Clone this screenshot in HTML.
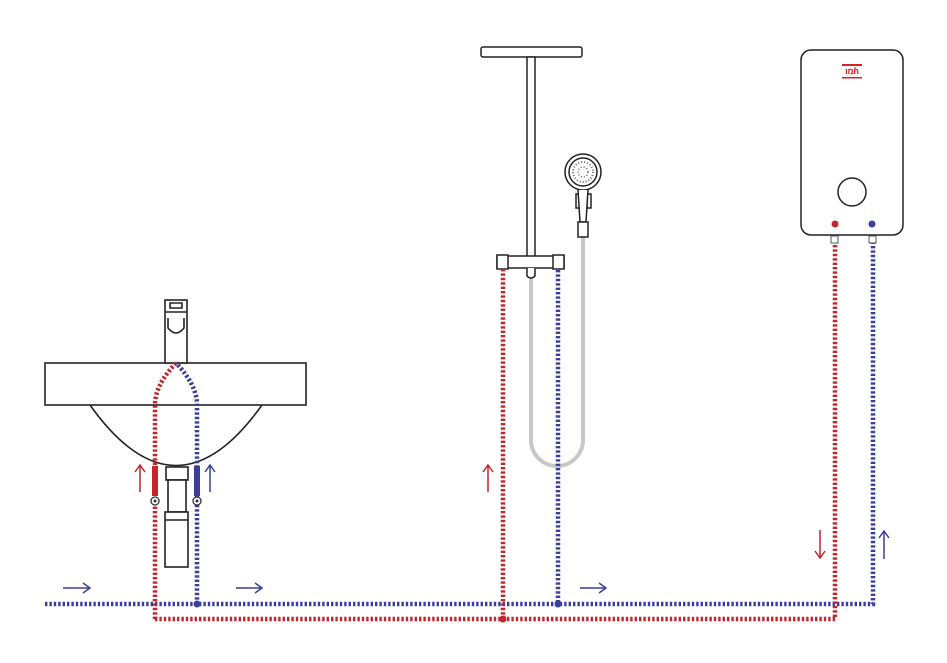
<!DOCTYPE html>
<html><head><meta charset="utf-8"><style>body{margin:0;background:#fff}svg{display:block}</style></head><body>
<svg width="947" height="663" viewBox="0 0 947 663" xmlns="http://www.w3.org/2000/svg">
<g fill="none" stroke-width="4.5" stroke-dasharray="2.4 2">
<path d="M45 604 H873 V240" stroke="#3b3f9c"/>
<path d="M155 619 H835 V240" stroke="#c0272d"/>
<path d="M503 619 V270" stroke="#c0272d"/>
</g>
<rect x="152" y="466" width="6" height="30" fill="#c0272d"/>
<rect x="194" y="466" width="6" height="30" fill="#3b3f9c"/>
<!-- sink -->
<g fill="none" stroke="#222" stroke-width="1.6">
<rect x="45" y="363" width="261" height="42" fill="#fff"/>
<path d="M90 405 Q176 526 262 405"/>
<rect x="166" y="467" width="22" height="13" fill="#fff"/>
<rect x="168" y="480" width="18" height="32" fill="#fff"/>
<rect x="165" y="512" width="23" height="55" fill="#fff"/>
<line x1="165" y1="520" x2="188" y2="520"/>
<rect x="165" y="300" width="22" height="63" fill="#fff"/>
<path d="M165 312 H187 M170 303 H182 V308 H170 Z M168 318 V328 Q176 338 184 328 V318"/>
</g>
<g fill="none" stroke-width="4.5" stroke-dasharray="2.4 2">
<path d="M155 619 V405 Q155 385 176 363" stroke="#c0272d"/>
<path d="M197 604 V405 Q197 385 176 363" stroke="#3b3f9c"/>
</g>
<rect x="152" y="466" width="6" height="30" fill="#c0272d"/>
<rect x="194" y="466" width="6" height="30" fill="#3b3f9c"/>
<g fill="#fff" stroke="#333" stroke-width="1.3"><circle cx="155" cy="501" r="4"/><circle cx="197" cy="501" r="4"/></g>
<g fill="#333"><circle cx="155" cy="501" r="1.5"/><circle cx="197" cy="501" r="1.5"/></g>
<!-- hose -->
<path d="M583 237 V440 A26 26 0 0 1 531 440 V278" fill="none" stroke="#c8c8c8" stroke-width="4"/>
<path d="M558 270 V604" fill="none" stroke="#3b3f9c" stroke-width="4.5" stroke-dasharray="2.4 2"/>
<circle cx="197" cy="604" r="3.5" fill="#3b3f9c"/>
<circle cx="558" cy="604" r="3.5" fill="#3b3f9c"/>
<circle cx="503" cy="619" r="3.5" fill="#c0272d"/>
<!-- shower -->
<g fill="#fff" stroke="#222" stroke-width="1.5">
<rect x="481" y="47" width="101" height="10" rx="2"/>
<rect x="527" y="57" width="8" height="200"/>
<rect x="497" y="256" width="67" height="12"/>
<rect x="497" y="255" width="11" height="14"/>
<rect x="553" y="255" width="11" height="14"/>
<path d="M527 268 V276 Q531 280 535 276 V268"/>
<circle cx="583" cy="172" r="18"/>
<circle cx="583" cy="172" r="14"/>
<rect x="576" y="194" width="4" height="14"/>
<rect x="587" y="194" width="4" height="14"/>
<path d="M578 190 L580 222 H586 L588 190"/>
<rect x="578" y="222" width="10" height="15"/>
</g>
<circle cx="583" cy="172" r="10" fill="none" stroke="#666" stroke-width="2" stroke-dasharray="1 2"/>
<circle cx="583" cy="172" r="5" fill="none" stroke="#666" stroke-width="1.5" stroke-dasharray="1 2"/>
<!-- heater -->
<rect x="801" y="50" width="102" height="185" rx="10" fill="#fff" stroke="#222" stroke-width="1.5"/>
<circle cx="852" cy="192" r="14" fill="none" stroke="#222" stroke-width="1.5"/>
<circle cx="835" cy="224" r="3.5" fill="#c0272d"/>
<circle cx="872" cy="224" r="3.5" fill="#3b3f9c"/>
<g fill="#fff" stroke="#555" stroke-width="1"><rect x="831" y="236" width="7" height="7"/><rect x="869" y="236" width="7" height="7"/></g>
<text x="852" y="74" font-family="Liberation Sans, sans-serif" font-size="9" font-weight="bold" fill="#e02020" text-anchor="middle">ıռɦ</text>
<rect x="842" y="64" width="20" height="2" fill="#e02020"/>
<rect x="842" y="77" width="20" height="1.5" fill="#e02020"/>
<!-- arrows -->
<g fill="none" stroke-width="1.5">
<path d="M140 492 V466 M135 472 L140 465 L145 472" stroke="#c0272d"/>
<path d="M210 492 V466 M205 472 L210 465 L215 472" stroke="#3b3f9c"/>
<path d="M488 492 V466 M483 472 L488 465 L493 472" stroke="#c0272d"/>
<path d="M820 530 V557 M815 551 L820 558 L825 551" stroke="#c0272d"/>
<path d="M884 559 V532 M879 538 L884 531 L889 538" stroke="#3b3f9c"/>
<path d="M63 588 H90 M83 583 L90 588 L83 593" stroke="#3b3f9c"/>
<path d="M236 588 H262 M255 583 L262 588 L255 593" stroke="#3b3f9c"/>
<path d="M580 588 H606 M599 583 L606 588 L599 593" stroke="#3b3f9c"/>
</g>
</svg>
</body></html>
